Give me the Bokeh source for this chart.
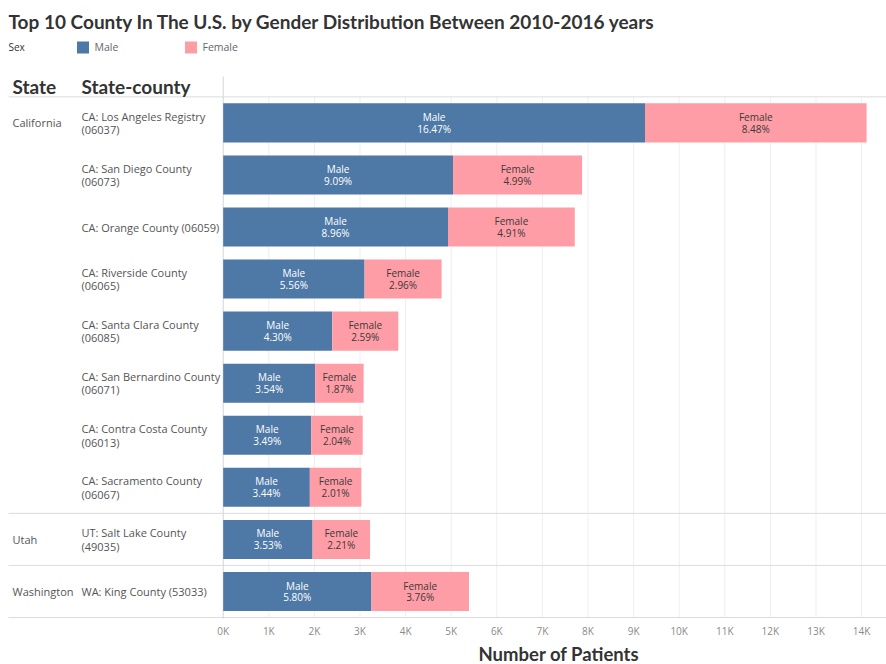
from bokeh.plotting import figure
from bokeh.models import Range1d, ColumnDataSource, FixedTicker, Title
from bokeh.core.properties import value
from bokeh.embed import file_html
from bokeh.resources import INLINE

# ---------------- data ----------------
title_text = "Top 10 County In The U.S. by Gender Distribution Between 2010-2016 years"
states = ["California"] * 8 + ["Utah", "Washington"]
counties = [
    "CA: Los Angeles Registry\n(06037)",
    "CA: San Diego County\n(06073)",
    "CA: Orange County (06059)",
    "CA: Riverside County\n(06065)",
    "CA: Santa Clara County\n(06085)",
    "CA: San Bernardino County\n(06071)",
    "CA: Contra Costa County\n(06013)",
    "CA: Sacramento County\n(06067)",
    "UT: Salt Lake County\n(49035)",
    "WA: King County (53033)",
]
male = [9250, 5040, 4930, 3100, 2390, 2020, 1930, 1900, 1960, 3250]
female = [4860, 2830, 2780, 1690, 1450, 1060, 1130, 1130, 1260, 2140]
male_pct = [16.47, 9.09, 8.96, 5.56, 4.30, 3.54, 3.49, 3.44, 3.53, 5.80]
female_pct = [8.48, 4.99, 4.91, 2.96, 2.59, 1.87, 2.04, 2.01, 2.21, 3.76]
sexes = ["Male", "Female"]
tick_values = [0, 1000, 2000, 3000, 4000, 5000, 6000, 7000, 8000, 9000,
               10000, 11000, 12000, 13000, 14000]
tick_labels = ["0K", "1K", "2K", "3K", "4K", "5K", "6K", "7K", "8K", "9K",
               "10K", "11K", "12K", "13K", "14K"]
x_title = "Number of Patients"
legend_title = "Sex"
header_labels = ["State", "State-county"]

# ---------------- style / layout ----------------
COLORS = ["#4e79a7", "#ff9da7"]
HFONT = "Lato"
BFONT = "Open Sans"
W, H = 886, 664
PX_PER_K = 45.6          # horizontal pixels per 1000 patients
ZERO_PX = 222.7          # page x of zero
ROW_TOP = 96.5           # page y of top of first row
PITCH = 52.2             # row pitch in px
FRAME_TOP = 38.0         # page y of frame top (min_border_top)
FRAME_BOTTOM = 619.5     # expected page y of frame bottom


def X(px):
    return (px - ZERO_PX) * 1000.0 / PX_PER_K


def Y(py):
    return -0.5 + (py - ROW_TOP) / PITCH


n = len(counties)
rows = list(range(n))

p = figure(width=W, height=H, output_backend="svg", toolbar_location=None,
           tools="", min_border=0, min_border_top=int(FRAME_TOP),
           x_range=Range1d(X(0), X(W)),
           y_range=Range1d(Y(FRAME_BOTTOM), Y(FRAME_TOP)))
p.outline_line_color = None
p.background_fill_color = "white"
p.xgrid.visible = False
p.ygrid.visible = False
p.yaxis.visible = False

# title
p.title.text = title_text
p.title.text_font = HFONT
p.title.text_font_size = "19px"
p.title.text_font_style = "bold"
p.title.text_color = "#333333"
p.title.align = "left"
p.title.offset = 8
p.title.standoff = 11

# x axis
ax = p.xaxis[0]
ax.ticker = FixedTicker(ticks=tick_values)
ax.major_label_overrides = {v: l for v, l in zip(tick_values, tick_labels)}
ax.axis_line_color = None
ax.major_tick_line_color = None
ax.major_tick_out = 0
ax.major_tick_in = 0
ax.minor_tick_line_color = None
ax.minor_tick_out = 0
ax.major_label_standoff = 5
ax.major_label_text_font = BFONT
ax.major_label_text_font_size = "10px"
ax.major_label_text_color = "#8a8a8a"

p.add_layout(Title(text=x_title, align="left", offset=478,
                   text_font=HFONT, text_font_size="18.5px",
                   text_font_style="bold", text_color="#333333",
                   standoff=0), "below")

# grid lines (rows area only)
p.segment(x0=tick_values[1:], y0=[-0.5] * (len(tick_values) - 1),
          x1=tick_values[1:], y1=[n - 0.5] * (len(tick_values) - 1),
          line_color="#efefef", line_width=1)

# header / group separators
bounds = [-0.5] + [i + 0.5 for i in range(n) if i == n - 1 or states[i] != states[i + 1]]
p.segment(x0=[X(8)] * len(bounds), y0=bounds, x1=[X(W)] * len(bounds), y1=bounds,
          line_color="#dcdcdc", line_width=1)
# vertical divider between table and bars
p.segment(x0=[0], y0=[Y(76)], x1=[0], y1=[Y(FRAME_BOTTOM + 10)],
          line_color="#d4d4d4", line_width=1)

# bars
src = ColumnDataSource(dict(
    row=rows, Male=male, Female=female,
    male_mid=[m / 2 for m in male],
    female_mid=[m + f / 2 for m, f in zip(male, female)],
    male_txt=["Male\n%.2f%%" % v for v in male_pct],
    female_txt=["Female\n%.2f%%" % v for v in female_pct],
))
p.hbar_stack(sexes, y="row", height=0.75, color=COLORS, line_color=None, source=src)

p.text(x="male_mid", y="row", text="male_txt", source=src,
       text_align="center", text_baseline="middle", text_font=value(BFONT),
       text_font_size="10px", text_color="white", text_line_height=0.85)
p.text(x="female_mid", y="row", text="female_txt", source=src,
       text_align="center", text_baseline="middle", text_font=value(BFONT),
       text_font_size="10px", text_color="#3a3a3a", text_line_height=0.85)

# table: state (first row of each group) and county
state_rows = [i for i in range(n) if i == 0 or states[i] != states[i - 1]]
p.text(x=[X(12)] * len(state_rows), y=state_rows,
       text=[states[i] for i in state_rows],
       text_align="left", text_baseline="middle", text_font=value(BFONT),
       text_font_size="11px", text_color="#555555")
p.text(x=[X(81)] * n, y=rows, text=counties,
       text_align="left", text_baseline="middle", text_font=value(BFONT),
       text_font_size="11px", text_color="#555555", text_line_height=0.9)

# column headers
p.text(x=[X(12), X(81)], y=[Y(86)] * 2, text=header_labels,
       text_align="left", text_baseline="middle", text_font=value(HFONT),
       text_font_size="19px", text_font_style="bold", text_color="#333333")

# legend
p.text(x=[X(8)], y=[Y(47)], text=[legend_title],
       text_align="left", text_baseline="middle", text_font=value(BFONT),
       text_font_size="10px", text_color="#333333")
p.scatter(x=[X(82.5), X(190.5)], y=[Y(47)] * 2, marker="square", size=12,
          color=COLORS, line_color=None)
p.text(x=[X(94), X(202)], y=[Y(47)] * 2, text=sexes,
       text_align="left", text_baseline="middle", text_font=value(BFONT),
       text_font_size="10.5px", text_color="#666666")

open("out.html", "w").write(file_html(p, INLINE))
